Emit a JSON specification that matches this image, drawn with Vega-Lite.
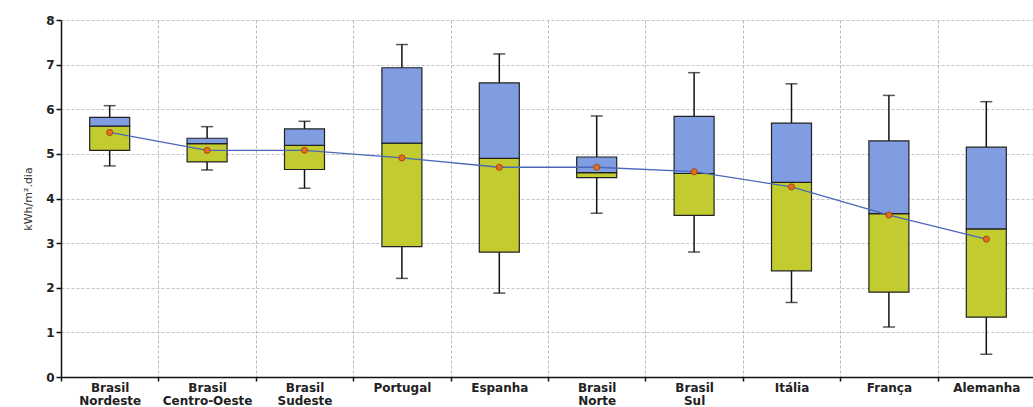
{
  "$schema": "https://vega.github.io/schema/vega-lite/v6.json",
  "autosize": {"type": "none"},
  "padding": {"left": 61, "top": 20, "right": 0, "bottom": 30},
  "width": 974,
  "height": 357,
  "background": "white",
  "config": {"view": {"stroke": null}},
  "data": {"values": [
    {"cat": "Brasil Nordeste", "lo": 4.73, "q1": 5.08, "med": 5.62, "q3": 5.82, "hi": 6.08, "mean": 5.48},
    {"cat": "Brasil Centro-Oeste", "lo": 4.64, "q1": 4.82, "med": 5.23, "q3": 5.35, "hi": 5.61, "mean": 5.08},
    {"cat": "Brasil Sudeste", "lo": 4.23, "q1": 4.65, "med": 5.19, "q3": 5.56, "hi": 5.73, "mean": 5.08},
    {"cat": "Portugal", "lo": 2.21, "q1": 2.92, "med": 5.24, "q3": 6.93, "hi": 7.45, "mean": 4.91},
    {"cat": "Espanha", "lo": 1.88, "q1": 2.8, "med": 4.9, "q3": 6.59, "hi": 7.24, "mean": 4.7},
    {"cat": "Brasil Norte", "lo": 3.67, "q1": 4.47, "med": 4.58, "q3": 4.93, "hi": 5.85, "mean": 4.7},
    {"cat": "Brasil Sul", "lo": 2.8, "q1": 3.62, "med": 4.56, "q3": 5.84, "hi": 6.82, "mean": 4.6},
    {"cat": "Itália", "lo": 1.67, "q1": 2.38, "med": 4.36, "q3": 5.69, "hi": 6.57, "mean": 4.26},
    {"cat": "França", "lo": 1.12, "q1": 1.9, "med": 3.66, "q3": 5.29, "hi": 6.31, "mean": 3.63},
    {"cat": "Alemanha", "lo": 0.51, "q1": 1.34, "med": 3.32, "q3": 5.15, "hi": 6.17, "mean": 3.09}
  ]},
  "encoding": {
    "x": {
      "field": "cat", "type": "nominal", "sort": null,
      "scale": {"paddingInner": 0, "paddingOuter": 0},
      "axis": {
        "title": null, "labelAngle": 0,
        "labelExpr": "split(datum.label, ' ')",
        "labelFont": "DejaVu Sans", "labelFontWeight": "bold", "labelFontSize": 12,
        "labelColor": "#222", "labelLineHeight": 13, "labelPadding": 1,
        "tickBand": "extent", "grid": true, "gridColor": "#b8b8c4", "gridDash": [3, 2], "gridWidth": 1,
        "domainColor": "#111", "domainWidth": 1.5, "tickColor": "#111", "tickSize": 4, "tickWidth": 1.5
      }
    }
  },
  "layer": [
    {
      "mark": {"type": "rule", "color": "#111", "strokeWidth": 1.5},
      "encoding": {
        "y": {
          "field": "lo", "type": "quantitative",
          "scale": {"domain": [0, 8], "nice": false},
          "axis": {
            "values": [0, 1, 2, 3, 4, 5, 6, 7, 8],
            "title": "kWh/m².dia", "titleFont": "DejaVu Sans", "titleFontWeight": "normal", "titleFontSize": 11,
            "titleColor": "#333", "titlePadding": 12,
            "labelFont": "DejaVu Sans", "labelFontWeight": "bold", "labelFontSize": 12, "labelColor": "#222",
            "grid": true, "gridColor": "#c4c4cc", "gridDash": [3, 2],
            "domainColor": "#111", "domainWidth": 1.5, "tickColor": "#111", "tickSize": 5, "tickWidth": 1.5
          }
        },
        "y2": {"field": "hi"}
      }
    },
    {
      "mark": {"type": "tick", "color": "#111", "size": 12, "thickness": 1.5},
      "encoding": {"y": {"field": "lo", "type": "quantitative"}}
    },
    {
      "mark": {"type": "tick", "color": "#111", "size": 12, "thickness": 1.5},
      "encoding": {"y": {"field": "hi", "type": "quantitative"}}
    },
    {
      "mark": {"type": "bar", "size": 40, "fill": "#c2cb30", "stroke": "#222", "strokeWidth": 1.2},
      "encoding": {"y": {"field": "q1", "type": "quantitative"}, "y2": {"field": "med"}}
    },
    {
      "mark": {"type": "bar", "size": 40, "fill": "#7f9de0", "stroke": "#222", "strokeWidth": 1.2},
      "encoding": {"y": {"field": "med", "type": "quantitative"}, "y2": {"field": "q3"}}
    },
    {
      "mark": {"type": "line", "color": "#4a68b8", "strokeWidth": 1.3},
      "encoding": {"y": {"field": "mean", "type": "quantitative"}}
    },
    {
      "mark": {"type": "point", "filled": true, "fill": "#e0701a", "stroke": "#a03a10", "strokeWidth": 0.8, "size": 38, "opacity": 1},
      "encoding": {"y": {"field": "mean", "type": "quantitative"}}
    }
  ]
}
